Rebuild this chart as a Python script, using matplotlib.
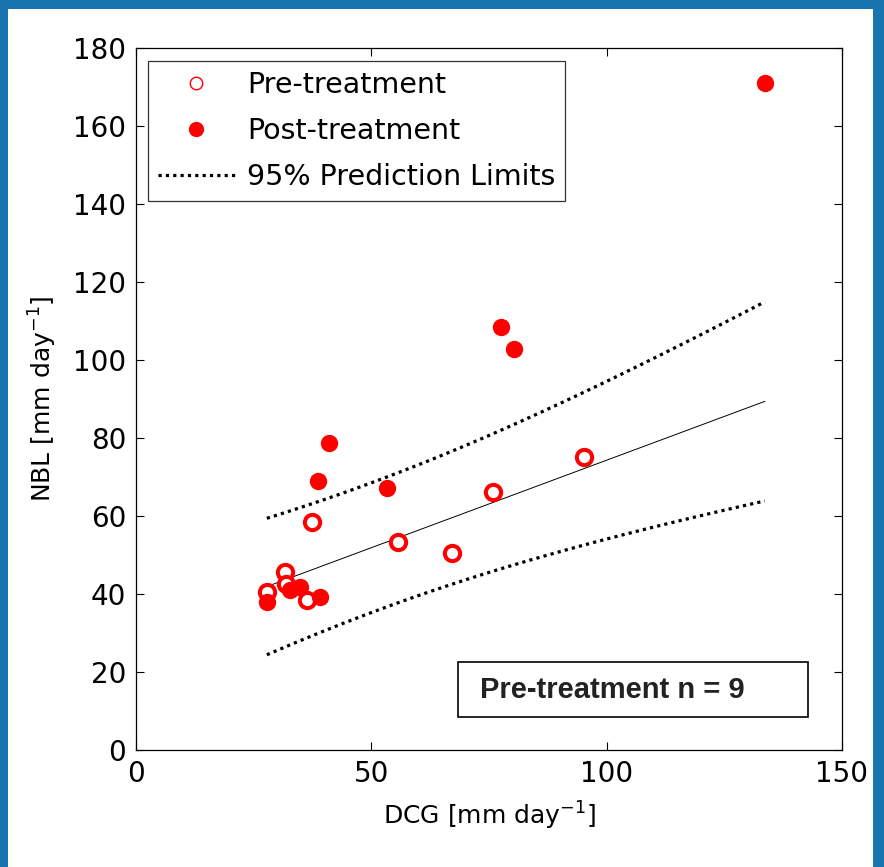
import matplotlib
matplotlib.use("Agg")
import matplotlib.pyplot as plt
import numpy as np
from matplotlib.lines import Line2D
from matplotlib.patches import Rectangle

# values
pre_dcg = [27.8, 31.7, 31.9, 36.3, 37.3, 55.6, 67.1, 75.9, 95.2]
pre_nbl = [40.5, 45.6, 42.6, 38.5, 58.5, 53.4, 50.4, 66.2, 75.1]
post_dcg = [27.8, 32.7, 34.8, 39.1, 38.7, 40.9, 53.3, 77.5, 80.4, 133.6]
post_nbl = [38.0, 41.0, 41.9, 39.3, 69.1, 78.8, 67.1, 108.5, 102.9, 171.1]
t_975 = 2.3646  # t value, 7 dof

x_ticks = [0, 50, 100, 150]
y_ticks = list(range(0, 181, 20))

# linear fit of the pre-treatment points with 95% prediction limits
xp = np.array(pre_dcg)
yp = np.array(pre_nbl)
n = len(xp)
slope, icept = np.polyfit(xp, yp, 1)
s = np.sqrt(np.sum((yp - (icept + slope * xp)) ** 2) / (n - 2))
sxx = np.sum((xp - xp.mean()) ** 2)
xf = np.linspace(min(pre_dcg + post_dcg), max(pre_dcg + post_dcg), 60)
yf = icept + slope * xf
half = t_975 * s * np.sqrt(1 + 1 / n + (xf - xp.mean()) ** 2 / sxx)

fig = plt.figure(figsize=(8.84, 8.67), dpi=100)
fig.patch.set_facecolor("white")

# blue slide frame
W, H = 884, 867
blue = "#1874ae"
for (x0, y0, w, h) in [(0, 0, 8, H), (W - 11, 0, 11, H), (0, H - 9, W, 9)]:
    fig.patches.append(Rectangle((x0 / W, y0 / H), w / W, h / H, transform=fig.transFigure,
                                 facecolor=blue, edgecolor="none", zorder=0))

ax = fig.add_axes([136 / W, 1 - 750 / H, (842 - 136) / W, (750 - 48) / H])

dot = (0, (1, 1.3))
ax.plot(xf, yf, color="black", lw=0.7, zorder=2)
ax.plot(xf, yf + half, color="black", lw=2.3, linestyle=dot, zorder=2)
ax.plot(xf, yf - half, color="black", lw=2.3, linestyle=dot, zorder=2)

ax.plot(pre_dcg, pre_nbl, "o", ms=11, mfc="white", mec="red", mew=2.9, zorder=3)
ax.plot(post_dcg, post_nbl, "o", ms=12.5, mfc="red", mec="red", mew=0, zorder=4)

ax.set_xlim(0, 150)
ax.set_ylim(0, 180)
ax.set_xticks(x_ticks)
ax.set_yticks(y_ticks)
ax.tick_params(direction="in", length=6, width=0.8, top=True, right=True,
               labelsize=20, pad=7)
for sp in ax.spines.values():
    sp.set_linewidth(0.9)

ax.set_xlabel("DCG [mm day$^{-1}$]", fontsize=18, labelpad=9)
ax.set_ylabel("NBL [mm day$^{-1}$]", fontsize=18, labelpad=10)

handles = [
    Line2D([], [], marker="o", ls="none", ms=9, mfc="white", mec="red", mew=1.0),
    Line2D([], [], marker="o", ls="none", ms=11, mfc="red", mec="red", mew=0),
    Line2D([], [], color="black", lw=2.3, linestyle=dot),
]
leg = ax.legend(handles, ["Pre-treatment", "Post-treatment", "95% Prediction Limits"],
                loc="upper left", bbox_to_anchor=(12 / 706, 1 - 13 / 702), fontsize=20.5,
                frameon=True, fancybox=False, handlelength=2.7, handletextpad=0.42,
                labelspacing=0.63, borderpad=0.35, borderaxespad=0)
leg.get_frame().set_edgecolor("black")
leg.get_frame().set_linewidth(0.9)

# annotation box (box drawn in axes fraction, text inside)
bx0, bx1 = (458 - 136) / 706, (808 - 136) / 706
by0, by1 = (750 - 717) / 702, (750 - 662) / 702
ax.add_patch(Rectangle((bx0, by0), bx1 - bx0, by1 - by0, transform=ax.transAxes,
                       facecolor="white", edgecolor="black", lw=1.2, zorder=5))
ax.text((480 - 136) / 706, (750 - 690) / 702, "Pre-treatment n = 9", transform=ax.transAxes,
        fontsize=21, fontweight="bold", family="Liberation Sans", color="#222222",
        va="center", ha="left", zorder=6)

fig.savefig("out.png", dpi=100)
